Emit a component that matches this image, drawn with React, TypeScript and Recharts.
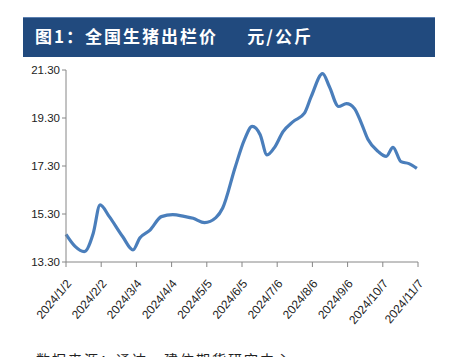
import React from 'react';
import { LineChart, Line, XAxis, YAxis } from 'recharts';

// 全国生猪出栏价, 元/公斤
const dates = [
  '2024-01-02', '2024-01-10', '2024-01-18', '2024-01-26', '2024-02-01', '2024-02-09',
  '2024-02-21', '2024-03-01', '2024-03-07', '2024-03-16', '2024-03-26', '2024-04-05',
  '2024-04-15', '2024-04-23', '2024-05-03', '2024-05-13', '2024-05-19', '2024-05-30',
  '2024-06-07', '2024-06-14', '2024-06-21', '2024-06-27', '2024-07-04', '2024-07-11',
  '2024-07-20', '2024-07-30', '2024-08-05', '2024-08-15', '2024-08-21', '2024-08-29',
  '2024-09-05', '2024-09-12', '2024-09-18', '2024-09-24', '2024-10-03', '2024-10-10',
  '2024-10-16', '2024-10-23', '2024-10-30', '2024-11-06',
];
const prices = [
  14.45, 13.95, 13.73, 14.5, 15.68, 15.2,
  14.35, 13.8, 14.3, 14.63, 15.19, 15.27,
  15.2, 15.12, 14.94, 15.15, 15.55, 17.25,
  18.38, 18.95, 18.6, 17.76, 18.1, 18.72,
  19.15, 19.5, 20.2, 21.15, 20.6, 19.78,
  19.9, 19.7, 19.1, 18.4, 17.9, 17.7,
  18.08, 17.48, 17.4, 17.2,
];
const tickDates = [
  '2024-01-02', '2024-02-02', '2024-03-04', '2024-04-04', '2024-05-05', '2024-06-05',
  '2024-07-06', '2024-08-06', '2024-09-06', '2024-10-07', '2024-11-07',
];
const yTicks = [13.3, 15.3, 17.3, 19.3, 21.3];

const title = '图1：全国生猪出栏价';
const unit = '元/公斤';
const source = '数据来源：通达，建信期货研究中心';

const dayOf = (s: string) => {
  const [y, m, d] = s.split('-').map(Number);
  return Math.round((Date.UTC(y, m - 1, d) - Date.UTC(2024, 0, 2)) / 86400000);
};
const fmtDate = (s: string) => {
  const [y, m, d] = s.split('-').map(Number);
  return `${y}/${m}/${d}`;
};

const data = dates.map((d, i) => ({ day: dayOf(d), price: prices[i] }));
const xTicks = tickDates.map(dayOf);
const labelByDay: Record<number, string> = {};
tickDates.forEach((d) => (labelByDay[dayOf(d)] = fmtDate(d)));

const axisFont = '"Liberation Sans Narrow", "Liberation Sans", sans-serif';

const DateTick = (props: any) => {
  const { x, y, payload } = props;
  return (
    <text
      x={0}
      y={0}
      transform={`translate(${x + 6},${y + 15}) rotate(-50)`}
      textAnchor="end"
      fontSize={12}
      fontFamily={axisFont}
      fill="#222"
    >
      {labelByDay[payload.value]}
    </text>
  );
};

export default function App() {
  return (
    <div style={{ position: 'absolute', left: 0, top: 0, width: 457, height: 357, background: '#fff', overflow: 'hidden' }}>
      <div
        style={{
          position: 'absolute',
          left: 23,
          top: 17,
          width: 412,
          height: 40,
          background: '#214a7e',
          borderTop: '1px solid #5b7fb0',
          boxSizing: 'border-box',
        }}
      >
        <span
          style={{
            position: 'absolute',
            left: 12,
            top: 5,
            color: '#fff',
            fontFamily: '"Noto Sans CJK SC", sans-serif',
            fontWeight: 'bold',
            fontSize: 17,
            letterSpacing: 2,
            whiteSpace: 'pre',
          }}
        >
          {title}
          {'     '}
          {unit}
        </span>
      </div>
      <div style={{ position: 'absolute', left: 0, top: 60 }}>
        <LineChart width={457} height={297} data={data} margin={{ top: 10, right: 39, left: 0, bottom: 0 }}>
          <XAxis
            dataKey="day"
            type="number"
            domain={[0, 310]}
            ticks={xTicks}
            interval={0}
            height={95}
            stroke="#868686"
            tickSize={5}
            tick={<DateTick />}
          />
          <YAxis
            type="number"
            domain={[13.3, 21.3]}
            ticks={yTicks}
            width={66}
            stroke="#868686"
            tickSize={4}
            tickFormatter={(v: number) => v.toFixed(2)}
            tick={{ fontSize: 11.5, fontFamily: axisFont, fill: '#222' }}
          />
          <Line
            type="monotone"
            dataKey="price"
            stroke="#4a7ebb"
            strokeWidth={3.2}
            dot={false}
            isAnimationActive={false}
          />
        </LineChart>
      </div>
      <div
        style={{
          position: 'absolute',
          left: 36,
          top: 349,
          fontFamily: '"Noto Sans CJK SC", sans-serif',
          fontSize: 14,
          letterSpacing: 2,
          color: '#222',
          whiteSpace: 'nowrap',
        }}
      >
        {source}
      </div>
    </div>
  );
}
